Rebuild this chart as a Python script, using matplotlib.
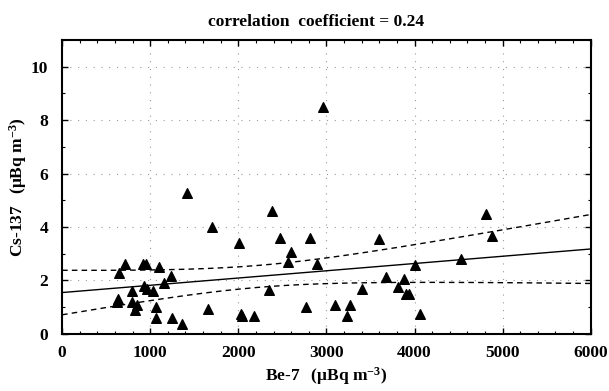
import numpy as np
import matplotlib
matplotlib.use('Agg')
import matplotlib.pyplot as plt
from matplotlib.ticker import MultipleLocator

plt.rcParams['font.family'] = ['Liberation Serif', 'DejaVu Serif']
plt.rcParams['font.weight'] = 'bold'
plt.rcParams['mathtext.fontset'] = 'custom'
plt.rcParams['mathtext.rm'] = 'Liberation Serif:bold'
plt.rcParams['mathtext.default'] = 'rm'

# Be-7 vs Cs-137 activity (uBq m-3)
be7 = [646, 714, 638, 620, 797, 790, 854, 828, 922, 952, 933, 960, 1035, 1100,
       1069, 1069, 1160, 1232, 1243, 1361, 1413, 1697, 1659, 2007, 2030, 2045,
       2181, 2377, 2350, 2472, 2593, 2562, 2763, 2816, 2888, 2963, 3095, 3228,
       3273, 3409, 3594, 3681, 3813, 3878, 3900, 3934, 4002, 4059, 4524, 4807,
       4883]
cs137 = [2.27, 2.62, 1.30, 1.20, 1.61, 1.21, 1.10, 0.90, 2.62, 2.62, 1.79, 1.67,
         1.62, 2.49, 1.02, 0.59, 1.89, 2.17, 0.59, 0.37, 5.28, 4.01, 0.92, 3.39,
         0.73, 0.67, 0.67, 4.60, 1.64, 3.58, 3.08, 2.70, 1.02, 3.58, 2.61, 8.50,
         1.08, 0.67, 1.08, 1.67, 3.55, 2.14, 1.75, 2.04, 1.48, 1.48, 2.58, 0.75,
         2.79, 4.49, 3.66]
r_text = 'correlation  coefficient = 0.24'

x = np.array(be7, dtype=float)
y = np.array(cs137)

# linear fit + 95% confidence band of the mean
n = len(x)
slope, icept = np.polyfit(x, y, 1)
resid = y - (slope * x + icept)
s = np.sqrt(np.sum(resid ** 2) / (n - 2))
sxx = np.sum((x - x.mean()) ** 2)
xf = np.linspace(0, 6000, 200)
yf = slope * xf + icept
half = 2.01 * s * np.sqrt(1 / n + (xf - x.mean()) ** 2 / sxx)

fig = plt.figure(figsize=(6.09, 3.91), dpi=100)
ax = fig.add_axes([0.102, 0.146, 0.868, 0.752])

ax.grid(True, color='0.6', linestyle=(0, (1, 6)), linewidth=0.8)
ax.plot(xf, yf, color='black', lw=1.0)
ax.plot(xf, yf + half, color='black', lw=1.0, linestyle=(0, (4, 3)))
ax.plot(xf, yf - half, color='black', lw=1.0, linestyle=(0, (4, 3)))
ax.scatter(x, y, marker='^', s=48, color='black', zorder=3)

ax.set_xlim(0, 6000)
ax.set_ylim(0, 11)
ax.xaxis.set_major_locator(MultipleLocator(1000))
ax.xaxis.set_minor_locator(MultipleLocator(200))
ax.yaxis.set_major_locator(MultipleLocator(2))
ax.yaxis.set_minor_locator(MultipleLocator(1))
ax.tick_params(which='both', direction='in', top=True, right=True, labelsize=12.5)
ax.tick_params(which='major', length=4, width=1.0)
ax.tick_params(axis='x', which='major', pad=8)
ax.tick_params(axis='y', which='major', pad=10)
ax.tick_params(which='minor', length=2.5, width=0.8)
for sp in ax.spines.values():
    sp.set_linewidth(1.5)

ax.set_title(r_text, fontsize=12.5, fontweight='bold', pad=10, x=0.48)
ax.set_xlabel('Be-7$\\ \\ $($\\mu$Bq m$^{-3}$)', fontsize=12.5, fontweight='bold', labelpad=3)
ax.set_ylabel('Cs-137$\\ \\ $($\\mu$Bq m$^{-3}$)', fontsize=12.5, fontweight='bold', labelpad=1)

fig.savefig('out.png', dpi=100)
